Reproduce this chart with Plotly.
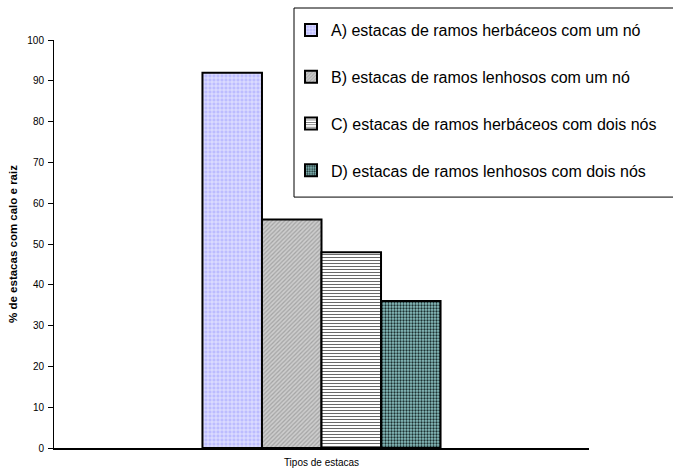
import plotly.graph_objects as go

# Percentage of cuttings with callus and roots, by cutting type
categories = ["Tipos de estacas"]
series_names = [
    "A) estacas de ramos herbáceos com um nó",
    "B) estacas de ramos lenhosos com um nó",
    "C) estacas de ramos herbáceos com dois nós",
    "D) estacas de ramos lenhosos com dois nós",
]
series_values = [92, 56, 48, 36]
y_ticks = [0, 10, 20, 30, 40, 50, 60, 70, 80, 90, 100]

# Fill styles per series (background, pattern shape, pattern colour)
styles = [
    dict(bgcolor="#bcbcff", shape="+", fgcolor="#ececff", size=4, solidity=0.35),
    dict(bgcolor="#cdcdcd", shape="/", fgcolor="#a4a4a4", size=3, solidity=0.4),
    dict(bgcolor="#ffffff", shape="-", fgcolor="#6a6a6a", size=3, solidity=0.35),
    dict(bgcolor="#8cc2c2", shape=".", fgcolor="#1c3030", size=3, solidity=0.45),
]

FONT = "Arial, Liberation Sans, sans-serif"

fig = go.Figure()
for i, (name, val, st) in enumerate(zip(series_names, series_values, styles)):
    fig.add_trace(go.Bar(
        x=categories,
        y=[val],
        name=name,
        legendgroup=f"g{i}",
        marker=dict(
            color=st["bgcolor"],
            line=dict(color="#000000", width=2),
            pattern=dict(shape=st["shape"], fgcolor=st["fgcolor"],
                         bgcolor=st["bgcolor"], size=st["size"],
                         solidity=st["solidity"], fillmode="replace"),
        ),
    ))

# Legend frame, running off the right edge of the page
fig.add_shape(
    type="rect", xref="paper", yref="paper",
    x0=0.4486, x1=1.25, y0=0.615, y1=1.0784,
    line=dict(color="#000000", width=1), fillcolor="#ffffff",
    layer="below",
)

fig.update_layout(
    width=673, height=470,
    margin=dict(l=54, r=84, t=40, b=22, autoexpand=False),
    paper_bgcolor="#ffffff",
    plot_bgcolor="#ffffff",
    font=dict(family=FONT, color="#000000", size=10),
    barmode="group",
    bargap=0.555,
    bargroupgap=0,
    showlegend=True,
    legend=dict(
        x=0.443, y=1.066, xanchor="left", yanchor="top",
        borderwidth=0,
        bgcolor="rgba(0,0,0,0)",
        font=dict(family=FONT, size=16, color="#000000"),
        traceorder="grouped",
        tracegroupgap=23,
        itemwidth=30,
    ),
    xaxis=dict(
        showline=True, linecolor="#000000", linewidth=1.5,
        showticklabels=False, ticks="",
        title=dict(text="Tipos de estacas", font=dict(size=10), standoff=10),
        showgrid=False, zeroline=False,
    ),
    yaxis=dict(
        range=[0, 100],
        tickvals=y_ticks,
        ticks="outside", ticklen=5, tickcolor="#000000",
        ticklabelstandoff=2,
        showline=True, linecolor="#000000", linewidth=1,
        showgrid=False, zeroline=False,
        tickfont=dict(size=10),
        title=dict(text="<b>% de estacas com calo e raiz</b>", font=dict(size=11.5), standoff=7),
    ),
)

fig.write_html("out.html")
